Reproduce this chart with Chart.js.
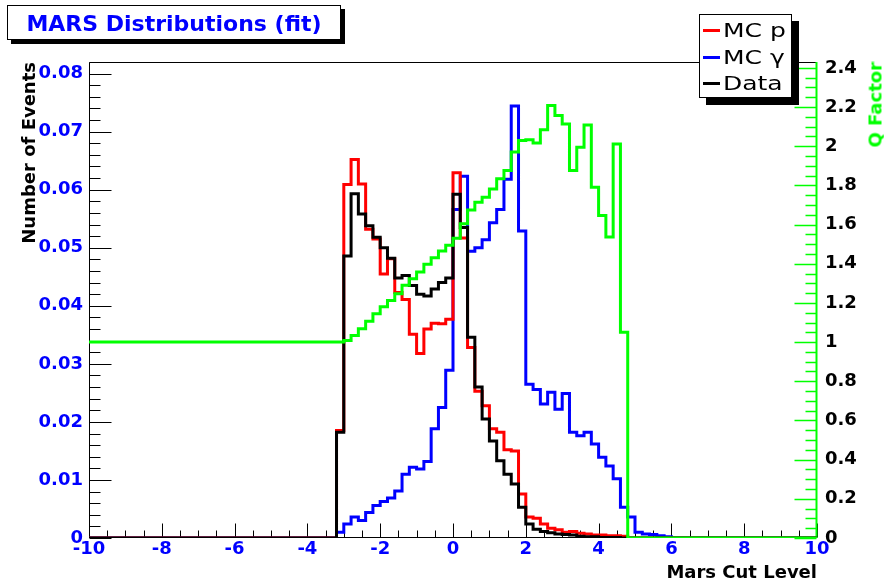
<!DOCTYPE html>
<html>
<head>
<meta charset="utf-8">
<title>MARS Distributions (fit)</title>
<script src="https://cdn.jsdelivr.net/npm/chart.js@4.4.1/dist/chart.umd.min.js"></script>
<style>
    html, body { margin: 0; padding: 0; background: #fff; }
    #wrap { position: relative; width: 884px; height: 586px; overflow: hidden; }
    #myChart { position: absolute; left: 0; top: 0; }

    .title-box {
        position: absolute; left: 7px; top: 5px; width: 332px; height: 31px;
        border: 1px solid #000; background: #fff; box-shadow: 4px 4px 0 #000;
        font: bold 22px "DejaVu Sans"; color: #0000ff;
        display: flex; align-items: center; justify-content: center;
        padding-top: 2px; box-sizing: content-box; white-space: nowrap;
    }

    .legend-box {
        position: absolute; left: 699px; top: 14px; width: 91px; height: 82px;
        border: 1px solid #000; background: #fff; box-shadow: 7px 7px 0 #000;
    }
    .legend-row {
        position: absolute; left: 3px; height: 26px;
        display: flex; align-items: center; font: 20px "DejaVu Sans"; color: #000;
    }
    .legend-row .mark { width: 17px; height: 3px; margin-right: 3px; }
    .legend-row .txt { display: inline-block; transform: scaleX(1.25); transform-origin: left center; white-space: nowrap; }

    #qTitle {
        position: absolute; left: 0; top: 0; white-space: nowrap; line-height: 1;
        font: bold 18px "DejaVu Sans"; color: #00ff00;
        transform-origin: 0 0;
        transform: translate(875px, 62px) rotate(-90deg) translate(-100%, -50%);
    }
</style>
</head>
<body>
<div id="wrap">
    <canvas id="myChart" width="884" height="586"></canvas>

    <div class="title-box">MARS Distributions (fit)</div>

    <div class="legend-box">
        <div class="legend-row" style="top: 2px;"><span class="mark" style="background:#ff0000"></span><span class="txt">MC p</span></div>
        <div class="legend-row" style="top: 29px;"><span class="mark" style="background:#0000ff"></span><span class="txt">MC γ</span></div>
        <div class="legend-row" style="top: 55px;"><span class="mark" style="background:#000000"></span><span class="txt">Data</span></div>
    </div>

    <div id="qTitle">Q Factor</div>
</div>

<script>
// histogram binning: 0.2 wide bins, first listed bin starts at -3.4
const binStart = -3.4
const binWidth = 0.2
const xMin = -10
const xMax = 10

// MC protons (red)
const mcProton = [
    0, 0.0185, 0.0609, 0.0652, 0.0610, 0.0532, 0.0515, 0.0455, 0.0481, 0.0423,
    0.0411, 0.0351, 0.0318, 0.0360, 0.0370, 0.0369, 0.0377, 0.0629, 0.0517, 0.0328,
    0.0253, 0.0228, 0.0188, 0.0182, 0.0152, 0.0150, 0.0076, 0.0036, 0.0034, 0.0024,
    0.0017, 0.0014, 0.0010, 0.0011, 0.0008, 0.0007, 0.0005, 0.0005, 0.0004, 0.0004,
    0.0003, 0, 0, 0, 0, 0, 0
]

// MC gammas (blue)
const mcGamma = [
    0, 0.0010, 0.0024, 0.0036, 0.0030, 0.0044, 0.0056, 0.0063, 0.0069, 0.0081,
    0.0110, 0.0122, 0.0119, 0.0132, 0.0188, 0.0225, 0.0289, 0.0566, 0.0623, 0.0494,
    0.0500, 0.0514, 0.0543, 0.0566, 0.0618, 0.0744, 0.0529, 0.0265, 0.0256, 0.0231,
    0.0251, 0.0222, 0.0249, 0.0182, 0.0176, 0.0182, 0.0162, 0.0139, 0.0124, 0.0102,
    0.0053, 0.0036, 0.0010, 0.0007, 0.0006, 0.0004, 0.0002
]

// Data (black)
const dataEvents = [
    0, 0.0182, 0.0486, 0.0593, 0.0558, 0.0538, 0.0518, 0.0500, 0.0482, 0.0448,
    0.0452, 0.0435, 0.0420, 0.0417, 0.0429, 0.0440, 0.0448, 0.0592, 0.0535, 0.0346,
    0.0260, 0.0205, 0.0167, 0.0133, 0.0110, 0.0093, 0.0053, 0.0024, 0.0015, 0.0011,
    0.0009, 0.0007, 0.0006, 0.0005, 0.0003, 0.0002, 0.0002, 0.0001, 0.0001, 0.0001,
    0, 0, 0, 0, 0, 0, 0
]

// Q factor (green, right axis)
const qBelow = 1.0   // value left of the listed bins
const qFactor = [
    1.000, 1.000, 1.008, 1.034, 1.068, 1.106, 1.145, 1.180, 1.213, 1.247,
    1.290, 1.324, 1.358, 1.397, 1.431, 1.465, 1.494, 1.530, 1.604, 1.675,
    1.714, 1.740, 1.782, 1.834, 1.876, 1.970, 2.029, 2.033, 2.016, 2.084,
    2.208, 2.157, 2.114, 1.876, 1.995, 2.109, 1.791, 1.646, 1.536, 2.012,
    1.050, 0, 0, 0, 0, 0, 0
]

// tick labels
const xTicks = [-10, -8, -6, -4, -2, 0, 2, 4, 6, 8, 10]
const yTicks = [0, 0.01, 0.02, 0.03, 0.04, 0.05, 0.06, 0.07, 0.08]
const qTicks = [0, 0.2, 0.4, 0.6, 0.8, 1, 1.2, 1.4, 1.6, 1.8, 2, 2.2, 2.4]

const yMax = 0.082
const qMax = 2.43

// turn bin contents into step points (left edge + value)
function toSteps(values, below) {
    let pts = [{x: xMin, y: below}]
    values.forEach((v, i) => {
        pts.push({x: +(binStart + i * binWidth).toFixed(1), y: v})
    })
    pts.push({x: +(binStart + values.length * binWidth).toFixed(1), y: 0})
    pts.push({x: xMax, y: 0})
    return pts
}

// ROOT style frame with inner ticks
const rootFrame = {
    id: 'rootFrame',
    beforeDatasetsDraw(chart) {
        const {ctx, chartArea: a, scales} = chart
        const L = Math.round(a.left) + 0.5
        const R = Math.round(a.right) - 0.5
        const T = Math.round(a.top) + 0.5
        const B = Math.round(a.bottom) - 0.5
        ctx.save()
        ctx.lineWidth = 1

        // black frame: left, top, bottom
        ctx.strokeStyle = '#000'
        ctx.beginPath()
        ctx.moveTo(R, T); ctx.lineTo(L, T); ctx.lineTo(L, B); ctx.lineTo(R, B)
        ctx.stroke()

        // left ticks
        ctx.beginPath()
        for (let k = 0; k * 0.002 <= yMax + 1e-9; k++) {
            const y = Math.round(scales.y.getPixelForValue(k * 0.002)) + 0.5
            const len = (k % 5 === 0) ? 22 : 11
            ctx.moveTo(L, y); ctx.lineTo(L + len, y)
        }
        // bottom ticks
        for (let k = 0; k <= 40; k++) {
            const x = Math.round(scales.x.getPixelForValue(xMin + k * 0.5)) + 0.5
            const len = (k % 4 === 0) ? 14 : 7
            ctx.moveTo(x, B); ctx.lineTo(x, B - len)
        }
        ctx.stroke()

        // green right axis
        ctx.strokeStyle = '#00ff00'
        ctx.lineWidth = 2
        ctx.beginPath()
        ctx.moveTo(R, a.top); ctx.lineTo(R, a.bottom)
        ctx.stroke()
        ctx.lineWidth = 1.5
        ctx.beginPath()
        for (let k = 0; k * 0.05 <= qMax + 1e-9; k++) {
            const y = Math.round(scales.q.getPixelForValue(k * 0.05)) + 0.5
            const len = (k % 4 === 0) ? 22 : 11
            ctx.moveTo(R, y); ctx.lineTo(R - len, y)
        }
        ctx.stroke()
        ctx.restore()
    }
}

const tickFont = {family: 'DejaVu Sans', weight: 'bold', size: 18}

function histSet(label, values, below, color, axis, order) {
    return {
        label: label,
        data: toSteps(values, below),
        borderColor: color,
        backgroundColor: color,
        borderWidth: 3,
        pointRadius: 0,
        stepped: true,
        fill: false,
        yAxisID: axis,
        order: order
    }
}

const chart1 = document.getElementById('myChart')
new Chart(chart1, {
    type: 'line',
    data: {
        datasets: [
            histSet('Q Factor', qFactor, qBelow, '#00ff00', 'q', 0),
            histSet('Data', dataEvents, 0, '#000000', 'y', 1),
            histSet('MC p', mcProton, 0, '#ff0000', 'y', 2),
            histSet('MC γ', mcGamma, 0, '#0000ff', 'y', 3)
        ]
    },
    options: {
        responsive: false,
        animation: false,
        layout: {
            padding: {top: 62, left: 0, right: 0, bottom: 0}
        },
        plugins: {
            legend: {display: false},
            tooltip: {enabled: false}
        },
        scales: {
            x: {
                type: 'linear',
                position: 'bottom',
                min: xMin,
                max: xMax,
                grid: {display: false, drawTicks: false},
                border: {display: false},
                afterBuildTicks: s => { s.ticks = xTicks.map(v => ({value: v})) },
                afterFit: s => { s.height = 48 },
                ticks: {
                    color: '#0000ff',
                    font: tickFont,
                    padding: 1,
                    maxRotation: 0,
                    autoSkip: false,
                    callback: v => String(v)
                },
                title: {
                    display: true,
                    text: 'Mars Cut Level',
                    align: 'end',
                    color: '#000',
                    font: tickFont,
                    padding: {top: 0, bottom: 2}
                }
            },
            y: {
                type: 'linear',
                position: 'left',
                min: 0,
                max: yMax,
                grid: {display: false, drawTicks: false},
                border: {display: false},
                afterBuildTicks: s => { s.ticks = yTicks.map(v => ({value: v})) },
                afterFit: s => { s.width = 89 },
                ticks: {
                    color: '#0000ff',
                    font: tickFont,
                    padding: 6,
                    callback: v => String(+v.toFixed(3))
                },
                title: {
                    display: true,
                    text: 'Number of Events',
                    align: 'end',
                    color: '#000',
                    font: tickFont,
                    padding: {top: 20, bottom: 0}
                }
            },
            q: {
                type: 'linear',
                position: 'right',
                min: 0,
                max: qMax,
                grid: {display: false, drawTicks: false},
                border: {display: false},
                afterBuildTicks: s => { s.ticks = qTicks.map(v => ({value: v})) },
                afterFit: s => { s.width = 67 },
                ticks: {
                    color: '#000',
                    font: tickFont,
                    padding: 8,
                    callback: v => String(+v.toFixed(2))
                }
            }
        }
    },
    plugins: [rootFrame]
})
</script>
</body>
</html>
